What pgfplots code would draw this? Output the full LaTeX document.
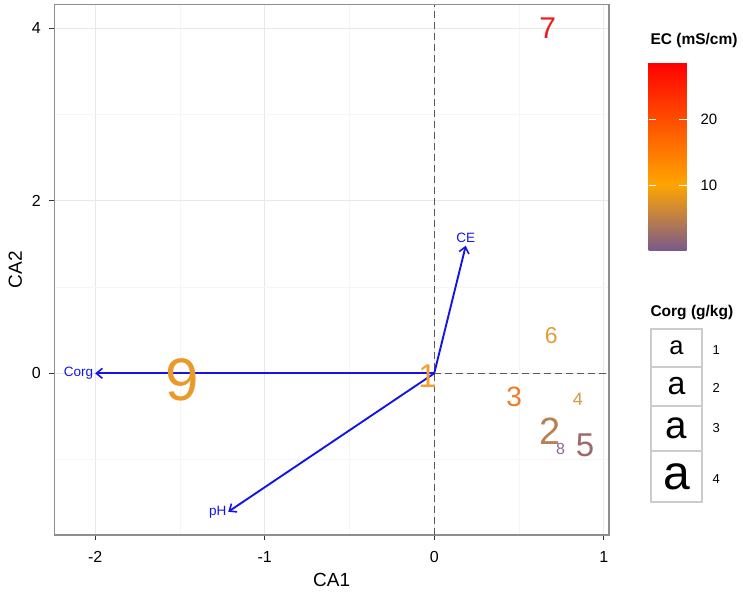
\documentclass[border=0pt]{standalone}
\usepackage{pgfplots}
\pgfplotsset{compat=1.18}
\usepackage{fontspec}
\setmainfont{Liberation Sans}
\usetikzlibrary{arrows.meta}

\definecolor{vecblue}{HTML}{1414E6}
\definecolor{panelborder}{HTML}{8E8E8E}
\definecolor{keyborder}{HTML}{CCCCCC}
\definecolor{c1}{HTML}{F4A030}
\definecolor{c2}{HTML}{B98052}
\definecolor{c3}{HTML}{F27A24}
\definecolor{c4}{HTML}{D69A48}
\definecolor{c5}{HTML}{A0686A}
\definecolor{c6}{HTML}{E69C36}
\definecolor{c7}{HTML}{EC1C1C}
\definecolor{c8}{HTML}{8C6A98}
\definecolor{c9}{HTML}{E99A28}

\tikzset{veclab/.style={text=vecblue, font=\fontsize{13.5}{13.5}\selectfont}}
\pgfplotsset{
  colormap={ec}{rgb255(0cm)=(123,90,140); rgb255(7cm)=(255,165,0); rgb255(20cm)=(255,0,0)},
  site/.style 2 args={only marks, mark=none, nodes near coords={#1},
    every node near coord/.append style={anchor=center, inner sep=0pt,
      text=c#1, font=\fontsize{#2}{#2}\selectfont}},
  vec/.style={draw=vecblue, color=vecblue, line width=1.9pt,
    -{Straight Barb[length=6pt, width=10pt, line width=1.6pt]}},
}

\begin{document}
\begin{tikzpicture}
\path[use as bounding box] (0,0) rectangle (743pt,593pt);
\begin{axis}[
  at={(54.3pt,58pt)}, anchor=south west,
  scale only axis, width=554.7pt, height=530.3pt,
  xmin=-2.241, xmax=1.031, ymin=-1.873, ymax=4.272,
  xtick={-2,-1,0,1}, ytick={0,2,4},
  minor xtick={-1.5,-0.5,0.5}, minor ytick={-1,1,3},
  grid=both,
  major grid style={color=black!9, line width=1pt},
  minor grid style={color=black!4, line width=0.6pt},
  axis line style={draw=panelborder, line width=1.6pt},
  tick align=outside, tick pos=left,
  major tick length=5pt, minor tick length=0pt,
  tick style={color=black!80, line width=0.8pt},
  /pgf/number format/assume math mode=true,
  ticklabel style={font=\fontsize{16}{16}\selectfont},
  xticklabel style={yshift=-8pt},
  yticklabel style={xshift=-5pt},
  xlabel={CA1}, ylabel={CA2},
  label style={font=\fontsize{19}{19}\selectfont},
  xlabel style={yshift=-4pt},
  ylabel style={yshift=3pt},
  colormap name=ec,
  point meta min=0.3, point meta max=28.6,
  colorbar,
  colorbar/width=38pt,
  colorbar style={
    at={(parent axis.north east)}, anchor=north west,
    xshift=31pt, yshift=-57.5pt,
    height=188pt,
    axis line style={draw=none},
    ytick={10,20},
    major tick length=0pt,
    /pgf/number format/assume math mode=true,
    yticklabel style={font=\fontsize{15}{15}\selectfont, xshift=10.5pt},
    after end axis/.code={
      \draw[white, line width=0.9pt] (rel axis cs:0,0.3428) -- ++(7.5pt,0);
      \draw[white, line width=0.9pt] (rel axis cs:1,0.3428) -- ++(-7.5pt,0);
      \draw[white, line width=0.9pt] (rel axis cs:0,0.6961) -- ++(7.5pt,0);
      \draw[white, line width=0.9pt] (rel axis cs:1,0.6961) -- ++(-7.5pt,0);
    },
  },
  clip=false,
]
% reference lines
\addplot[color=black!65, line width=0.8pt, dash pattern=on 7pt off 4pt]
  coordinates {(0,-1.873) (0,4.272)};
\addplot[color=black!65, line width=0.8pt, dash pattern=on 7pt off 4pt]
  coordinates {(0,0) (1.031,0)};

% site scores (label = site number, text size in pt)
\addplot[site={7}{30}] coordinates {(0.669,4.000)};
\addplot[site={9}{60}] coordinates {(-1.488,-0.074)};
\addplot[site={1}{33}] coordinates {(-0.039,-0.028)};
\addplot[site={6}{23}] coordinates {(0.690,0.439)};
\addplot[site={3}{28}] coordinates {(0.471,-0.268)};
\addplot[site={4}{18}] coordinates {(0.847,-0.306)};
\addplot[site={2}{38}] coordinates {(0.683,-0.669)};
\addplot[site={8}{16}] coordinates {(0.746,-0.877)};
\addplot[site={5}{33}] coordinates {(0.890,-0.831)};

% variable arrows
\addplot[vec] coordinates {(0,0) (0.186,1.479)}
  node[pos=1, anchor=south, inner sep=2.5pt, veclab] {CE};
\addplot[vec] coordinates {(0,0) (-1.215,-1.604)}
  node[pos=1, anchor=east, inner sep=1pt, veclab] {pH};
\addplot[vec] coordinates {(0,0) (-2.0,0)}
  node[pos=1, anchor=east, inner sep=1pt, veclab] {Corg};
\end{axis}

% legend titles
\node[anchor=west, font=\bfseries\fontsize{15.5}{15.5}\selectfont] at (647pt,552pt) {EC (mS/cm)};
\node[anchor=west, font=\bfseries\fontsize{15.5}{15.5}\selectfont] at (647pt,280.5pt) {Corg (g/kg)};

% size legend keys
\begin{scope}[keyborder, line width=2.4pt]
  \draw[fill=white] (651pt,264pt) rectangle (702pt,226pt);
  \draw[fill=white] (651pt,226pt) rectangle (702pt,187pt);
  \draw[fill=white] (651pt,187pt) rectangle (702pt,142pt);
  \draw[fill=white] (651pt,142pt) rectangle (702pt,91pt);
\end{scope}
\node[font=\fontsize{25.5}{25.5}\selectfont] at (676.5pt,245pt) {a};
\node[font=\fontsize{32}{32}\selectfont] at (676.5pt,206.5pt) {a};
\node[font=\fontsize{38.5}{38.5}\selectfont] at (676.5pt,164.5pt) {a};
\node[font=\fontsize{48}{48}\selectfont] at (676.5pt,116.5pt) {a};
\node[anchor=west, font=\fontsize{13}{13}\selectfont] at (709pt,243pt) {1};
\node[anchor=west, font=\fontsize{13}{13}\selectfont] at (709pt,205pt) {2};
\node[anchor=west, font=\fontsize{13}{13}\selectfont] at (709pt,165pt) {3};
\node[anchor=west, font=\fontsize{13}{13}\selectfont] at (709pt,114pt) {4};
\end{tikzpicture}
\end{document}
